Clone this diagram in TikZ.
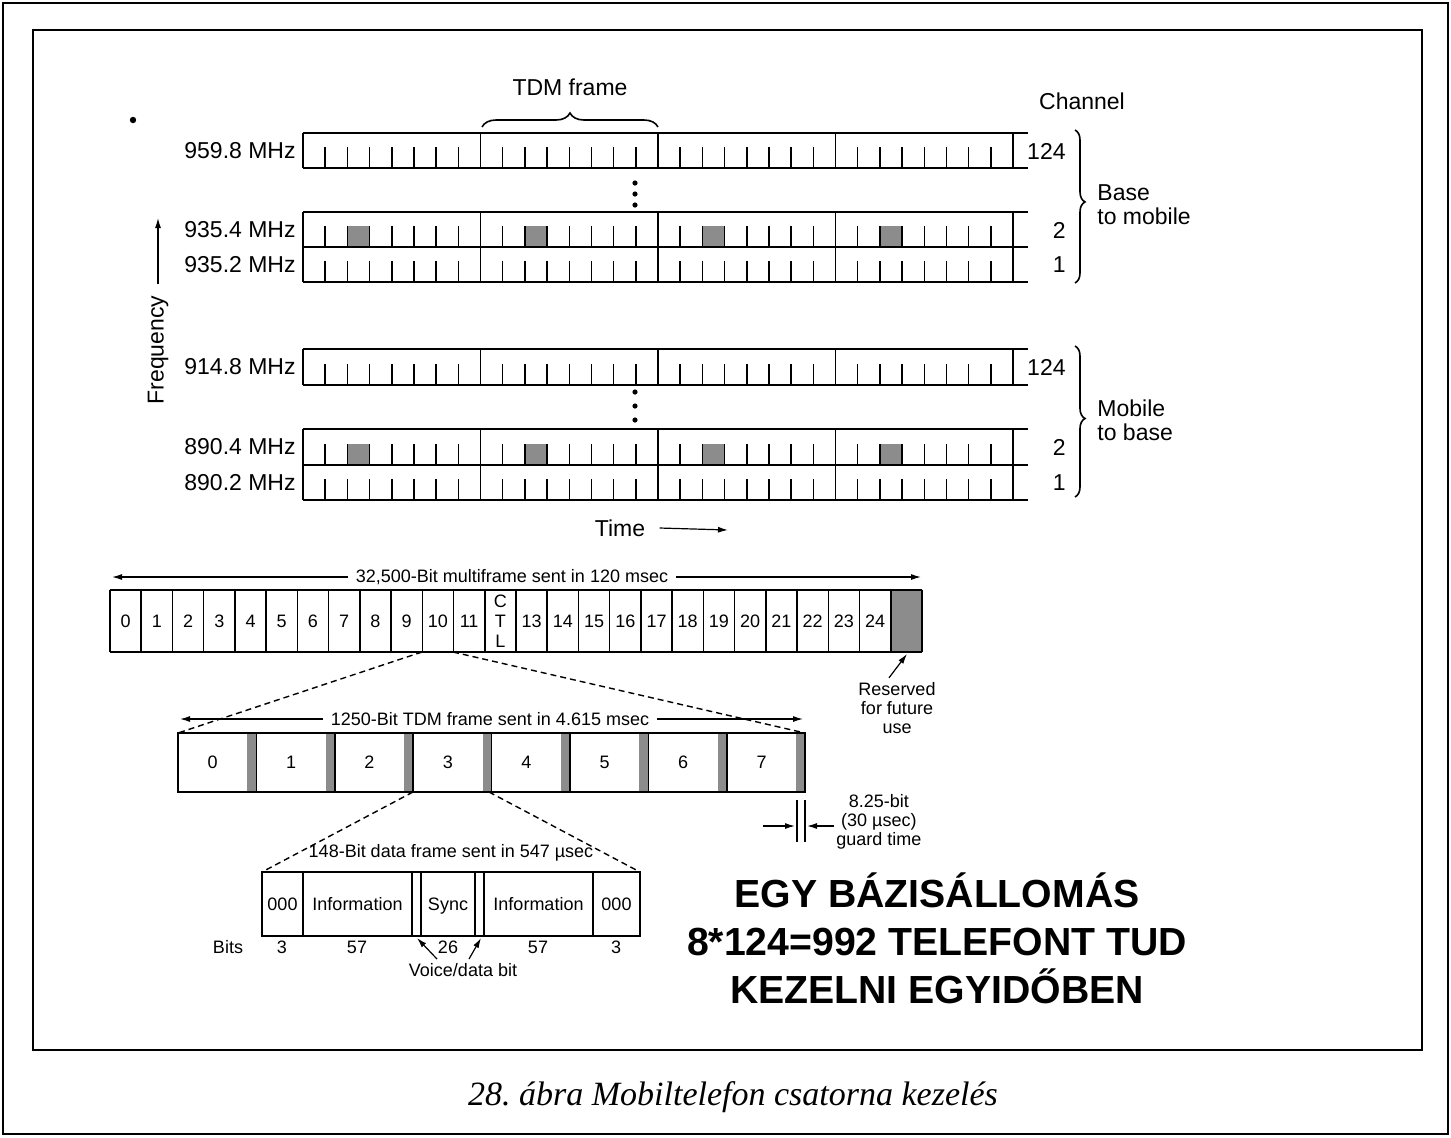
\documentclass[tikz,border=0pt]{standalone}
\usepackage{fontspec}
\setmainfont{Liberation Sans}
\newfontfamily\capfont{Liberation Serif}
\usetikzlibrary{arrows.meta,decorations.pathreplacing}
\frenchspacing
\begin{document}
\begin{tikzpicture}[x=0.5pt,y=-0.5pt,
  lbl/.style={font=\fontsize{11.5}{12}\selectfont,inner sep=0pt},
  sm/.style={font=\fontsize{9}{9.6}\selectfont,inner sep=0pt},
  ln/.style={line width=0.8pt},
  tk/.style={line width=0.75pt},
  shadefill/.style={fill=black!45},
  dsh/.style={line width=0.7pt,dash pattern=on 3pt off 2pt},
  arr/.style={line width=0.6pt,-{Latex[length=5pt,width=3pt]}},
]
\useasboundingbox (0,0) rectangle (1451,1137);
% frames
\draw[line width=1.2pt] (3,3) rectangle (1448,1134);
\draw[line width=1.2pt] (33,30) rectangle (1422,1050);
\fill (133,120) circle (1.6pt);

% channel rows
\foreach \t/\b/\sh in {133/168/0,212/247/1,247/282/0,349/385/0,429/465/1,465/500/0}{
  \ifnum\sh=1
    \foreach \f in {0,...,3}{\fill[shadefill] (303+177.5*\f+44.375,\b) rectangle (303+177.5*\f+66.5625,\b-21);}
  \fi
  \draw[ln] (303,\t) -- (1028,\t) (303,\b) -- (1028,\b);
  \foreach \f in {0,...,4}{\draw[ln] (303+177.5*\f,\t) -- (303+177.5*\f,\b);}
  \foreach \f in {0,...,3}{\foreach \k in {1,...,7}{\draw[tk] (303+177.5*\f+22.1875*\k,\b) -- (303+177.5*\f+22.1875*\k,\b-21);}}
}
\node[lbl,anchor=east] (f1) at (296,151) {959.8 MHz};
\node[lbl,anchor=east] (f2) at (296,230) {935.4 MHz};
\node[lbl,anchor=east] (f3) at (296,265) {935.2 MHz};
\node[lbl,anchor=east] (f4) at (296,367) {914.8 MHz};
\node[lbl,anchor=east] (f5) at (296,447) {890.4 MHz};
\node[lbl,anchor=east] (f6) at (296,483) {890.2 MHz};
\node[lbl,anchor=east] (c1) at (1066,151) {124};
\node[lbl,anchor=east] (c2) at (1066,230) {2};
\node[lbl,anchor=east] (c3) at (1066,265) {1};
\node[lbl,anchor=east] (c4) at (1066,367) {124};
\node[lbl,anchor=east] (c5) at (1066,447) {2};
\node[lbl,anchor=east] (c6) at (1066,483) {1};
\foreach \y in {183,194,205,392,406,420}{\fill (635,\y) circle (1.3pt);}

\draw[ln,decorate,decoration={brace,amplitude=7pt}] (482,127) -- (658,127);
\node[lbl] (tdm) at (570,87) {TDM frame};
\node[lbl] (chan) at (1082,101) {Channel};
\draw[ln,decorate,decoration={brace,amplitude=5pt,aspect=0.47}] (1075,130) -- (1075,283);
\draw[ln,decorate,decoration={brace,amplitude=5pt,aspect=0.48}] (1075,346) -- (1075,497);
\node[lbl,anchor=west,align=left] (bm) at (1097,205) {Base\\to mobile};
\node[lbl,anchor=west,align=left] (mb) at (1097,420) {Mobile\\to base};

\node[lbl] (time) at (620,528) {Time};
\coordinate (timeend) at (728,530);
\draw[arr] ([xshift=7pt]time.east) -- (timeend);
\node[lbl,rotate=90] (freq) at (158,350) {Frequency};
\coordinate (fbot) at (158,284);
\coordinate (ftop) at (158,218);
\draw[arr] (fbot) -- (ftop);

% multiframe
\fill[shadefill] (890.75,590) rectangle (922,652);
\draw[tk] (110,590) -- (922,590) (110,652) -- (922,652);
\foreach \i in {0,...,26}{\draw[tk] (110+31.23*\i,590) -- (110+31.23*\i,652);}
\foreach \i in {0,...,11}{\node[sm] (m\i) at (110+31.23*\i+15.6,621) {\i};}
\foreach \i in {13,...,24}{\node[sm] (m\i) at (110+31.23*\i+15.6,621) {\i};}
\node[sm,align=center,font=\fontsize{9}{10}\selectfont] (mctl) at (110+31.23*12+15.6,621) {C\\T\\L};
\node[sm] (mlab) at (512,577) {32,500-Bit multiframe sent in 120 msec};
\coordinate (mL) at (112,577);
\coordinate (mR) at (921,577);
\draw[arr] ([xshift=-4pt]mlab.west) -- (mL);
\draw[arr] ([xshift=4pt]mlab.east) -- (mR);
\node[sm,align=center] (res) at (897,708) {Reserved\\for future\\use};
\coordinate (rc) at (907,654);
\draw[arr] ([xshift=-4pt,yshift=2pt]res.north) -- (rc);

% TDM frame
\foreach \k in {0,...,7}{
  \fill[shadefill] (178+78.4*\k+69.4,733) rectangle (178+78.4*\k+78.4,792);
  \node[sm] (t\k) at (178+78.4*\k+34.7,762) {\k};
}
\draw[tk] (178,733) rectangle (805,792);
\foreach \k in {1,...,7}{\draw[tk] (178+78.4*\k,733) -- (178+78.4*\k,792);}
\node[sm] (tlab) at (490,719) {1250-Bit TDM frame sent in 4.615 msec};
\coordinate (tL) at (180,719);
\coordinate (tR) at (803,719);
\draw[arr] ([xshift=-4pt]tlab.west) -- (tL);
\draw[arr] ([xshift=4pt]tlab.east) -- (tR);
\coordinate (mcl) at (422,652);
\coordinate (mcr) at (453,652);
\coordinate (ttl) at (178,733);
\coordinate (ttr) at (805,733);
\draw[dsh] (mcl) -- (ttl);
\draw[dsh] (mcr) -- (ttr);

% guard time
\draw[tk] (797,800) -- (797,842);
\draw[tk] (805,800) -- (805,842);
\coordinate (g1) at (763,826);
\coordinate (g1e) at (795,826);
\coordinate (g2) at (834,826);
\coordinate (g2e) at (807,826);
\draw[arr] (g1) -- (g1e);
\draw[arr] (g2) -- (g2e);
\node[sm,align=center,anchor=west] (gt) at (836,822) {8.25-bit\\(30 µsec)\\guard time};

% data frame
\coordinate (tcl) at (413,792);
\coordinate (tcr) at (489,792);
\coordinate (dtl) at (262,872);
\coordinate (dtr) at (640,872);
\draw[dsh] (tcl) -- (dtl);
\draw[dsh] (tcr) -- (dtr);
\node[sm] (dlab) at (451,853) {148-Bit data frame sent in 547 µsec};
\draw[tk] (262,872) rectangle (640,936);
\foreach \x in {303,412,421,475,484,593}{\draw[tk] (\x,872) -- (\x,936);}
\node[sm,anchor=base] (d1) at (282.5,910) {000};
\node[sm,anchor=base] (d2) at (357.5,910) {Information};
\node[sm,anchor=base] (d3) at (448,910) {Sync};
\node[sm,anchor=base] (d4) at (538.5,910) {Information};
\node[sm,anchor=base] (d5) at (616.5,910) {000};
\node[sm,anchor=base] (bits) at (228,953) {Bits};
\node[sm,anchor=base] (b1) at (282,953) {3};
\node[sm,anchor=base] (b2) at (357,953) {57};
\node[sm,anchor=base] (b3) at (448,953) {26};
\node[sm,anchor=base] (b4) at (538,953) {57};
\node[sm,anchor=base] (b5) at (616,953) {3};
\node[sm] (vd) at (463,970) {Voice/data bit};
\coordinate (va) at (437,959);
\coordinate (vb) at (469,959);
\coordinate (vt1) at (417,938);
\coordinate (vt2) at (481,938);
\draw[arr] (va) -- (vt1);
\draw[arr] (vb) -- (vt2);

% big text
\node[font=\fontsize{19.6}{24}\selectfont\bfseries,align=center,inner sep=0pt] (big) at (937,938) {EGY BÁZISÁLLOMÁS\\8*124=992 TELEFONT TUD\\KEZELNI EGYIDŐBEN};
\node[font=\capfont\itshape\fontsize{17}{20}\selectfont,inner sep=0pt] (cap) at (733,1097) {28. ábra Mobiltelefon csatorna kezelés};
\end{tikzpicture}
\end{document}
